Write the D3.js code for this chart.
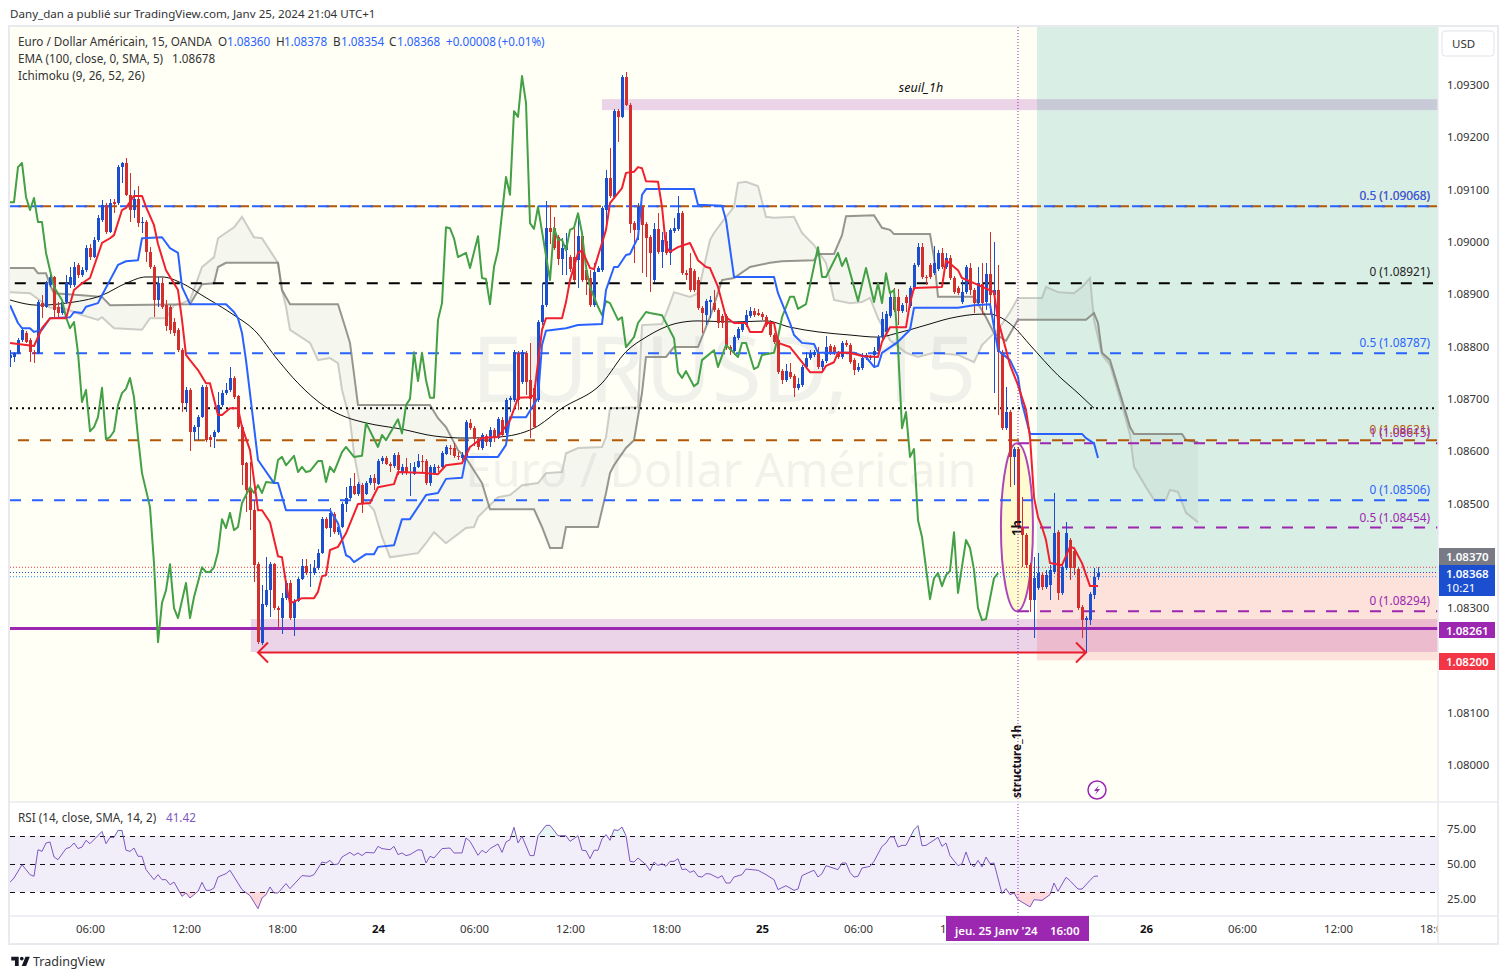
<!DOCTYPE html>
<html>
<head>
<meta charset="utf-8">
<title>EURUSD 15</title>
<script src="https://cdn.jsdelivr.net/npm/d3@7"></script>
<style>
  html, body { margin: 0; padding: 0; background: #fff; }
  svg { display: block; }
  text { font-family: "Noto Sans", sans-serif; }
</style>
</head>
<body>
<div id="chart"></div>
<script>
// all prices are in 1/100000 of a dollar (108368 = 1.08368)
const opens = [
  108778,108780,108788,108812,108826,108812,108789,108788,108883,108876,
  108918,108933,108876,108864,108885,108918,108918,108956,108937,108946,
  108988,108971,109004,109042,109071,109019,109076,109074,109143,109151,
  109090,109061,109082,109036,109038,108981,108952,108889,108921,108879,
  108876,108847,108832,108793,108692,108717,108637,108646,108665,108723,
  108627,108627,108637,108688,108711,108717,108740,108705,108646,108577,
  108530,108487,108384,108233,108306,108334,108384,108300,108281,108319,
  108348,108281,108313,108355,108380,108367,108367,108376,108405,108470,
  108453,108480,108445,108455,108499,108510,108533,108518,108535,108518,
  108539,108549,108537,108581,108587,108575,108571,108593,108558,108570,
  108558,108556,108570,108581,108581,108539,108558,108570,108570,108594,
  108606,108606,108591,108587,108587,108654,108644,108623,108606,108629,
  108617,108640,108625,108659,108634,108698,108698,108788,108732,108788,
  108736,108721,108698,108847,108879,109027,109027,109009,108967,108984,
  108971,108971,108965,109011,108946,108931,108879,108942,108946,109061,
  109122,109086,109250,109239,109315,109262,109036,109023,109067,109034,
  109009,108927,109025,108981,109002,108979,109021,109025,109055,108941,
  108950,108944,108927,108874,108860,108885,108883,108870,108858,108858,
  108799,108791,108816,108832,108841,108858,108868,108864,108862,108856,
  108847,108822,108812,108753,108736,108751,108744,108721,108726,108761,
  108778,108784,108789,108761,108772,108801,108799,108788,108780,108807,
  108803,108774,108755,108759,108778,108778,108784,108791,108818,108828,
  108858,108895,108895,108868,108895,108877,108912,108956,108990,108933,
  108956,108941,108948,108979,108952,108969,108931,108912,108885,108904,
  108950,108908,108883,108919,108885,108939,108898,108908,108789,108644,
  108675,108589,108604,108455,108439,108382,108315,108338,108363,108340,
  108344,108369,108445,108329,108376,108430,108409,108375,108302,108277,
  108277,108325,108360
];
const highs = [
  108793,108789,108816,108835,108830,108816,108793,108889,108898,108925,
  108940,108935,108885,108889,108937,108952,108961,108960,108952,108994,
  108996,109009,109051,109080,109074,109082,109082,109147,109153,109160,
  109132,109099,109107,109048,109042,108990,108956,108933,108931,108889,
  108879,108854,108835,108797,108723,108721,108650,108669,108726,108726,
  108631,108640,108713,108717,108730,108761,108744,108707,108650,108579,
  108579,108507,108388,108344,108398,108388,108386,108304,108329,108352,
  108354,108317,108359,108394,108394,108384,108392,108413,108474,108474,
  108491,108484,108457,108503,108531,108549,108558,108541,108539,108543,
  108554,108556,108585,108591,108591,108579,108596,108598,108575,108587,
  108577,108579,108594,108593,108585,108573,108575,108573,108600,108612,
  108612,108615,108598,108598,108659,108661,108648,108627,108635,108633,
  108646,108644,108665,108665,108702,108705,108793,108791,108793,108791,
  108807,108726,108851,108921,109078,109071,109048,109013,109007,109017,
  108975,109027,109055,109017,108956,108946,108960,108954,109069,109137,
  109179,109254,109254,109319,109325,109266,109040,109074,109071,109038,
  109013,109036,109055,109019,109019,109027,109046,109088,109059,108946,
  108979,108948,108933,108877,108891,108897,108908,108874,108862,108862,
  108803,108822,108837,108849,108870,108876,108874,108872,108866,108860,
  108851,108826,108816,108757,108767,108768,108747,108740,108765,108789,
  108793,108793,108799,108776,108820,108805,108803,108791,108811,108812,
  108807,108778,108768,108788,108788,108784,108799,108822,108866,108868,
  108902,108912,108910,108883,108898,108916,108960,108998,108998,108937,
  108960,108992,108984,108988,108979,108975,108935,108916,108927,108956,
  108960,108912,108952,108960,108960,109019,109000,108956,108793,108723,
  108679,108608,108608,108512,108443,108386,108398,108405,108369,108373,
  108382,108520,108449,108382,108464,108434,108413,108378,108306,108285,
  108331,108376,108378
];
const lows = [
  108761,108770,108786,108809,108807,108770,108768,108786,108854,108874,
  108914,108856,108856,108860,108881,108912,108914,108931,108933,108942,
  108965,108969,109000,109038,109015,109017,109055,109071,109113,109088,
  109038,109046,109028,109017,108961,108948,108856,108876,108872,108830,
  108824,108820,108789,108675,108675,108600,108621,108621,108663,108617,
  108608,108606,108635,108684,108707,108713,108700,108642,108535,108484,
  108449,108350,108231,108229,108302,108283,108296,108262,108250,108315,
  108277,108246,108311,108354,108363,108340,108363,108373,108403,108451,
  108436,108441,108439,108453,108484,108508,108516,108514,108482,108516,
  108535,108526,108535,108575,108573,108560,108568,108554,108554,108554,
  108514,108554,108568,108558,108535,108533,108554,108560,108566,108593,
  108593,108587,108583,108583,108583,108640,108610,108602,108602,108610,
  108608,108617,108623,108627,108631,108675,108694,108679,108728,108707,
  108625,108644,108694,108841,108876,108996,108984,108956,108937,108937,
  108942,108923,108912,108923,108898,108876,108876,108942,108942,109038,
  109084,109082,109191,109237,109260,109017,108960,109004,108941,108933,
  108904,108923,108977,108950,108975,108956,109017,109021,108937,108927,
  108904,108904,108870,108826,108841,108854,108866,108835,108835,108793,
  108784,108784,108812,108828,108837,108854,108856,108858,108851,108837,
  108818,108805,108747,108728,108732,108738,108703,108717,108723,108757,
  108774,108780,108757,108751,108768,108784,108784,108776,108776,108799,
  108766,108745,108751,108755,108774,108774,108759,108788,108814,108824,
  108854,108866,108841,108864,108866,108874,108908,108952,108929,108918,
  108929,108937,108944,108948,108948,108927,108900,108898,108881,108900,
  108898,108864,108879,108860,108870,108860,108711,108669,108640,108640,
  108531,108535,108451,108378,108376,108292,108243,108334,108334,108336,
  108315,108365,108315,108325,108373,108354,108363,108296,108243,108216,
  108267,108317,108354
];
const closes = [
  108784,108788,108812,108832,108809,108789,108786,108885,108876,108921,
  108933,108870,108864,108885,108921,108933,108952,108937,108946,108988,
  108971,109004,109046,109071,109019,109074,109072,109143,109151,109090,
  109061,109082,109036,109038,108981,108952,108889,108921,108876,108839,
  108832,108826,108793,108692,108717,108637,108646,108665,108723,108621,
  108621,108637,108688,108711,108717,108740,108703,108646,108573,108526,
  108487,108382,108235,108308,108334,108384,108300,108296,108319,108348,
  108281,108313,108355,108380,108367,108369,108376,108405,108470,108453,
  108482,108445,108455,108499,108510,108533,108518,108537,108501,108539,
  108549,108539,108581,108587,108575,108571,108593,108564,108570,108558,
  108560,108570,108581,108579,108539,108570,108570,108568,108596,108608,
  108604,108591,108589,108593,108656,108644,108623,108608,108631,108617,
  108640,108625,108661,108631,108698,108702,108789,108698,108789,108732,
  108700,108646,108847,108879,109027,109019,108988,108967,108988,108994,
  108948,108927,109011,108927,108927,108879,108942,108950,109065,109122,
  109088,109250,109239,109315,109262,109034,109023,109067,109032,109007,
  108979,109025,108981,109004,108979,109023,109027,109055,108941,108937,
  108908,108908,108874,108864,108887,108889,108870,108845,108845,108799,
  108793,108818,108834,108845,108860,108868,108860,108860,108856,108841,
  108822,108809,108751,108736,108753,108742,108721,108728,108761,108778,
  108788,108789,108761,108772,108799,108788,108788,108780,108807,108803,
  108770,108755,108761,108778,108784,108780,108791,108818,108853,108862,
  108895,108870,108868,108879,108883,108912,108956,108990,108933,108931,
  108933,108960,108979,108952,108969,108931,108904,108902,108904,108952,
  108908,108883,108921,108883,108939,108898,108908,108789,108644,108675,
  108589,108604,108455,108439,108382,108315,108357,108367,108340,108363,
  108373,108443,108329,108378,108443,108376,108376,108300,108277,108281,
  108327,108360,108368
];

// indicators as [bar, price], read at the visible corners of each line
const emaLine = [[0,108889],[7,108879],[14,108883],[23,108898],[29,108921],[34,108933],[38,108933],[43,108921],[48,108898],[56,108860],[61,108832],[67,108774],[72,108730],[79,108684],[84,108665],[89,108654],[98,108642],[106,108629],[114,108625],[122,108627],[131,108644],[138,108682],[148,108730],[154,108790],[159,108818],[167,108845],[172,108849],[181,108847],[189,108849],[195,108837],[202,108828],[210,108822],[217,108818],[222,108826],[229,108841],[235,108854],[243,108862],[245,108862],[247,108858],[251,108837],[255,108803],[262,108745],[267,108711],[271,108682]];
const tenkan = [[0,108807],[4,108803],[6,108801],[8,108835],[10,108854],[14,108854],[16,108908],[18,108921],[20,108931],[23,108998],[25,109007],[26,109013],[28,109061],[29,109065],[31,109088],[33,109088],[34,109067],[36,109032],[37,108996],[39,108946],[42,108908],[43,108851],[44,108784],[45,108774],[47,108755],[49,108730],[50,108730],[52,108669],[53,108669],[55,108682],[57,108682],[58,108646],[60,108602],[61,108545],[62,108487],[63,108487],[65,108464],[67,108399],[68,108397],[69,108348],[70,108309],[73,108319],[76,108319],[77,108331],[78,108361],[79,108363],[80,108411],[82,108417],[84,108443],[87,108499],[90,108501],[92,108531],[96,108537],[97,108560],[104,108558],[107,108556],[109,108573],[113,108577],[115,108608],[118,108625],[122,108627],[125,108659],[127,108702],[130,108703],[131,108707],[133,108832],[134,108854],[138,108854],[139,108885],[140,108927],[142,108979],[143,108984],[145,108950],[146,108948],[148,108998],[149,109023],[150,109074],[153,109103],[154,109132],[156,109134],[157,109143],[158,109141],[159,109116],[162,109115],[163,109067],[164,108990],[165,108981],[167,108990],[170,108998],[172,108965],[174,108952],[175,108950],[177,108914],[179,108856],[181,108845],[184,108845],[185,108828],[188,108828],[189,108845],[191,108845],[192,108807],[195,108799],[198,108770],[200,108751],[203,108751],[204,108763],[206,108770],[207,108788],[210,108788],[213,108782],[217,108780],[218,108809],[220,108837],[224,108837],[225,108883],[226,108912],[233,108914],[234,108965],[237,108946],[238,108931],[242,108918],[246,108904],[247,108851],[250,108765],[252,108726],[254,108679],[255,108627],[256,108512],[257,108474],[258,108455],[259,108430],[260,108386],[263,108382],[265,108417],[266,108415],[268,108386],[270,108342],[272,108342]];
const kijun = [[0,108879],[2,108845],[3,108835],[5,108835],[6,108828],[8,108832],[10,108854],[15,108856],[16,108866],[18,108864],[19,108876],[22,108883],[23,108898],[25,108927],[27,108956],[29,108963],[32,108965],[33,109007],[38,109009],[40,108988],[42,108979],[43,108914],[45,108881],[54,108881],[56,108866],[57,108854],[58,108826],[59,108774],[62,108583],[66,108539],[67,108539],[69,108487],[80,108487],[82,108462],[84,108401],[85,108397],[86,108388],[89,108403],[91,108403],[92,108417],[96,108420],[98,108470],[100,108470],[104,108516],[107,108520],[109,108547],[113,108549],[114,108589],[122,108589],[124,108612],[125,108665],[129,108665],[132,108702],[133,108803],[134,108830],[139,108835],[142,108841],[148,108843],[149,108908],[151,108952],[152,108952],[154,108975],[155,108977],[157,109009],[158,109090],[159,109101],[171,109101],[172,109071],[178,109069],[179,109042],[181,108933],[191,108933],[192,108902],[195,108845],[196,108822],[198,108807],[201,108805],[202,108788],[211,108788],[214,108780],[216,108761],[217,108763],[218,108788],[222,108809],[225,108832],[226,108874],[237,108874],[241,108879],[245,108881],[247,108793],[250,108774],[252,108742],[253,108692],[255,108633],[268,108633],[269,108625],[271,108615],[272,108587]];
const chikou = [[0,109076],[1,109076],[2,109143],[3,109151],[4,109086],[5,109061],[6,109084],[7,109038],[8,109038],[9,108979],[10,108946],[11,108914],[13,108889],[14,108856],[15,108835],[16,108847],[17,108788],[18,108694],[19,108717],[20,108638],[21,108646],[22,108665],[23,108721],[24,108623],[25,108627],[26,108638],[27,108688],[28,108711],[29,108719],[30,108740],[31,108703],[32,108627],[33,108558],[35,108493],[36,108386],[37,108235],[38,108310],[39,108334],[40,108384],[41,108300],[42,108281],[44,108348],[45,108281],[46,108321],[48,108378],[49,108369],[50,108369],[51,108378],[52,108407],[53,108470],[54,108453],[55,108482],[56,108449],[57,108455],[58,108501],[60,108531],[61,108520],[62,108535],[63,108520],[64,108541],[66,108539],[67,108583],[68,108589],[69,108573],[71,108591],[72,108560],[73,108570],[74,108560],[75,108562],[77,108581],[78,108581],[79,108541],[80,108570],[81,108560],[83,108598],[84,108608],[86,108589],[88,108591],[89,108654],[92,108608],[93,108631],[94,108621],[97,108661],[98,108634],[99,108688],[100,108700],[101,108789],[102,108734],[103,108788],[104,108736],[105,108702],[106,108702],[107,108851],[108,108883],[109,109028],[110,109026],[111,109007],[112,108971],[114,108979],[115,108950],[117,109011],[118,108931],[119,108929],[120,108881],[121,108952],[122,108984],[124,109124],[125,109090],[126,109250],[127,109239],[128,109317],[129,109266],[130,109036],[131,109025],[132,109067],[135,108927],[136,109027],[137,109004],[138,109004],[139,108984],[140,109023],[141,109027],[142,109055],[143,109017],[144,108952],[145,108914],[147,108876],[148,108860],[149,108887],[150,108883],[152,108851],[153,108856],[154,108799],[156,108818],[157,108845],[159,108866],[160,108864],[163,108860],[166,108816],[167,108751],[168,108740],[169,108753],[171,108724],[172,108730],[173,108774],[176,108793],[177,108761],[179,108803],[182,108780],[183,108807],[184,108807],[186,108757],[187,108761],[188,108784],[191,108788],[192,108818],[193,108856],[195,108895],[196,108895],[197,108872],[199,108881],[202,108990],[203,108933],[204,108933],[207,108979],[208,108954],[209,108969],[212,108887],[214,108950],[216,108885],[217,108921],[218,108883],[219,108940],[220,108902],[221,108908],[222,108799],[223,108644],[224,108675],[225,108589],[226,108604],[227,108468],[228,108436],[230,108317],[231,108357],[232,108367],[233,108342],[234,108363],[235,108371],[236,108445],[237,108329],[239,108430],[240,108415],[241,108373],[242,108300],[243,108277],[244,108279],[246,108357],[247,108367]];
const senkouA = [[0,108904],[5,108902],[10,108874],[13,108874],[16,108866],[18,108860],[22,108851],[23,108856],[26,108835],[33,108832],[35,108854],[39,108854],[41,108879],[43,108883],[45,108889],[48,108952],[51,108971],[52,109007],[56,109028],[58,109048],[61,109009],[63,109007],[67,108960],[68,108908],[69,108876],[70,108832],[75,108807],[77,108774],[80,108778],[82,108768],[83,108717],[85,108659],[86,108596],[88,108512],[91,108487],[93,108436],[95,108397],[102,108405],[104,108424],[106,108445],[109,108424],[114,108453],[116,108455],[117,108474],[120,108497],[122,108512],[125,108516],[128,108535],[132,108539],[134,108558],[138,108560],[139,108596],[142,108606],[148,108608],[149,108627],[150,108682],[157,108684],[158,108841],[163,108843],[165,108883],[166,108904],[170,108895],[172,108902],[175,109004],[176,109017],[178,109038],[181,109067],[182,109113],[184,109115],[187,109107],[189,109048],[191,109046],[196,109048],[198,109017],[201,108994],[204,108960],[206,108889],[210,108883],[213,108885],[215,108893],[217,108854],[220,108812],[224,108788],[227,108780],[231,108788],[237,108784],[241,108770],[243,108803],[245,108818],[247,108832],[250,108866],[252,108893],[258,108893],[259,108914],[262,108904],[266,108902],[268,108914],[270,108931],[271,108851],[273,108784],[275,108765],[278,108688],[280,108631],[281,108570],[284,108531],[286,108507],[289,108507],[290,108526],[292,108522],[294,108482],[297,108464]];
const senkouB = [[0,108950],[6,108950],[7,108940],[9,108940],[10,108918],[11,108902],[18,108898],[23,108895],[25,108879],[45,108881],[48,108919],[51,108921],[52,108952],[54,108960],[67,108960],[68,108908],[70,108881],[82,108881],[84,108832],[85,108807],[87,108688],[105,108688],[107,108663],[109,108646],[112,108602],[114,108587],[118,108539],[120,108489],[131,108489],[133,108455],[135,108415],[138,108415],[139,108455],[147,108455],[149,108520],[150,108558],[151,108573],[154,108606],[156,108621],[158,108711],[159,108780],[164,108780],[166,108799],[172,108799],[175,108856],[176,108879],[178,108927],[181,108931],[185,108952],[190,108960],[193,108963],[201,108965],[202,108977],[206,108977],[208,109013],[209,109049],[216,109051],[218,109027],[220,109023],[221,109015],[230,109015],[231,108971],[232,108895],[241,108895],[244,108856],[246,108826],[249,108811],[252,108851],[269,108851],[271,108864],[272,108845],[273,108788],[275,108774],[278,108698],[280,108646],[281,108633],[293,108633],[294,108621],[297,108617]];
const rsiLine = [[0,36.9],[1,40],[3,49.5],[4,46],[5,42.4],[6,41.2],[7,60.2],[8,59],[9,65],[10,65.7],[11,55],[12,53.1],[14,61],[15,61.9],[16,65],[17,61],[18,62.1],[19,66.9],[20,64.5],[23,73.3],[24,64.5],[25,69],[26,69],[27,74],[28,74],[29,59.8],[30,59],[31,61.4],[32,55.5],[33,55.5],[34,46],[36,38.8],[37,42.4],[38,38.8],[39,38.8],[40,35.2],[41,37.1],[43,26.9],[44,29.3],[45,25.7],[47,30.5],[48,36.9],[49,31.2],[50,31.2],[51,32.9],[52,40.7],[54,43.1],[55,45.5],[58,31.7],[60,27.4],[62,18.1],[63,25.7],[64,28.1],[65,33.6],[66,29.3],[67,29.3],[69,36],[70,32.4],[73,41.7],[75,41.2],[76,42.4],[78,51.4],[79,50.7],[80,52.6],[81,49.5],[82,50],[83,55],[85,58.3],[86,56.2],[87,57.9],[88,56],[89,58.3],[91,57.9],[92,62.6],[93,61],[95,60.2],[96,62.6],[97,56.7],[98,57.9],[99,56],[100,56.7],[102,60.2],[103,59.8],[104,50.7],[105,55.5],[106,54.3],[108,61],[110,61.4],[111,57.9],[113,57.9],[114,68.6],[115,66.2],[117,56.2],[118,59.8],[119,57.9],[120,61],[122,64.3],[123,58.3],[124,65.7],[125,67.4],[126,76.2],[127,65],[128,69.8],[130,56],[131,56],[132,70.2],[134,77.6],[135,77.6],[136,74],[137,70.2],[139,70.2],[140,66.2],[142,70.2],[143,59.8],[144,59.5],[145,53.8],[146,59.8],[147,59.8],[148,67.9],[149,71],[150,66.9],[151,74.5],[152,74],[153,76.4],[154,70.2],[155,51.9],[156,51.4],[157,54.3],[159,49.5],[160,45.2],[161,51.4],[162,49],[163,50.2],[164,48.3],[165,51.9],[166,51.9],[167,53.8],[168,46],[169,46.4],[170,44],[171,45.2],[172,41.2],[173,40.7],[174,43.1],[175,42.9],[177,40],[178,41.7],[179,36.4],[180,36.4],[181,40.7],[183,42.4],[184,46.4],[187,45.5],[189,42.4],[191,38.8],[192,31.7],[194,34.5],[196,31.2],[197,32.1],[198,41.7],[200,44.3],[201,45.5],[202,40.7],[203,43.1],[204,48.8],[207,46],[208,50.7],[209,50.7],[210,44],[211,40.7],[212,41.2],[213,47.1],[215,48.3],[216,51.9],[218,62.6],[219,65],[220,69.3],[221,69.3],[222,62.1],[223,63.3],[224,63.3],[226,74.5],[227,77.4],[228,63.1],[229,63.3],[232,69],[233,62.6],[234,65],[235,56],[237,48.8],[238,50.2],[239,58.6],[240,50.7],[241,47.9],[242,52.6],[243,47.9],[244,55],[245,50.2],[246,50.7],[248,28.8],[249,32.4],[250,28.1],[251,29.3],[252,24.5],[255,19.3],[256,24.5],[258,24],[260,28.1],[261,36.4],[262,30.5],[264,40.5],[265,38.1],[267,32.1],[268,32.1],[270,38.3],[271,41.2],[272,41.4]];

const priceTicks = [109300,109200,109100,109000,108900,108800,108700,108600,108500,108300,108100,108000];
const rsiTicks = [75,50,25];
const rsiLevels = [70,50,30];
const blueLevels = [109068,108787,108506];
const blueLabels = ["0.5 (1.09068)","0.5 (1.08787)","0 (1.08506)"];
const brownLevels = [109068,108621];
const brownLabels = ["0.5 (1.09068)","0 (1.08621)"];
const purpleLevels = [108615,108454,108294];
const purpleLabels = ["1 (1.08615)","0.5 (1.08454)","0 (1.08294)"];
const blackLevel = 108921, dottedLevel = 108682, supportLevel = 108261;
const liveLevels = [108378,108368,108360];

const width = 1508, height = 979;
const paneLeft = 10, paneRight = 1438, axisRight = 1498;
const paneTop = 27, paneBottom = 802, rsiBottom = 916, timeBottom = 944;

const startTime = new Date(2024, 0, 23, 1, 0);
const barTime = n => d3.timeMinute.offset(startTime, n * 15);

const x = d3.scaleTime()
  .domain([startTime, d3.timeMinute.offset(startTime, 5355)])
  .range([paneLeft, paneRight]);
const y = d3.scaleLinear().domain([109300, 108000]).range([85, 765]);
const yRsi = d3.scaleLinear().domain([70, 30]).range([836, 892]);
const bx = n => x(barTime(n));

const svg = d3.select("#chart").append("svg")
  .attr("width", width).attr("height", height);

const defs = svg.append("defs");
defs.append("clipPath").attr("id", "clip-price").append("rect")
  .attr("x", paneLeft).attr("y", paneTop).attr("width", paneRight - paneLeft).attr("height", paneBottom - paneTop);
defs.append("clipPath").attr("id", "clip-time").append("rect")
  .attr("x", paneLeft).attr("y", rsiBottom).attr("width", paneRight - paneLeft).attr("height", timeBottom - rsiBottom);
defs.append("clipPath").attr("id", "clip-low").append("rect")
  .attr("x", paneLeft).attr("y", yRsi(30)).attr("width", paneRight - paneLeft).attr("height", rsiBottom - yRsi(30));
defs.append("clipPath").attr("id", "clip-high").append("rect")
  .attr("x", paneLeft).attr("y", paneBottom).attr("width", paneRight - paneLeft).attr("height", yRsi(70) - paneBottom);
const lowGrad = defs.append("linearGradient").attr("id", "grad-low").attr("x1", 0).attr("y1", 0).attr("x2", 0).attr("y2", 1);
lowGrad.append("stop").attr("offset", "0%").attr("stop-color", "#f23645").attr("stop-opacity", 0.02);
lowGrad.append("stop").attr("offset", "100%").attr("stop-color", "#f23645").attr("stop-opacity", 0.22);
const highGrad = defs.append("linearGradient").attr("id", "grad-high").attr("x1", 0).attr("y1", 1).attr("x2", 0).attr("y2", 0);
highGrad.append("stop").attr("offset", "0%").attr("stop-color", "#26a69a").attr("stop-opacity", 0.01);
highGrad.append("stop").attr("offset", "100%").attr("stop-color", "#26a69a").attr("stop-opacity", 0.12);

// header line
svg.append("text").attr("x", 10).attr("y", 18).attr("font-size", 11.6).attr("fill", "#333")
  .text("Dany_dan a publié sur TradingView.com, Janv 25, 2024 21:04 UTC+1");

// frame and pane backgrounds
svg.append("rect").attr("x", paneLeft).attr("y", paneTop).attr("width", paneRight - paneLeft).attr("height", paneBottom - paneTop)
  .attr("fill", "#fffff6");

const price = svg.append("g").attr("clip-path", "url(#clip-price)");

// watermark
price.append("text").attr("x", 724).attr("y", 402).attr("text-anchor", "middle")
  .attr("font-size", 91).attr("fill", "#787b86").attr("fill-opacity", 0.11).text("EURUSD, 15");
price.append("text").attr("x", 721).attr("y", 487).attr("text-anchor", "middle")
  .attr("font-size", 47).attr("fill", "#787b86").attr("fill-opacity", 0.11).text("Euro / Dollar Américain");

// supply / demand zones
const zone = (n0, top, bottom) => price.append("rect")
  .attr("x", bx(n0)).attr("y", y(top)).attr("width", paneRight - bx(n0)).attr("height", y(bottom) - y(top))
  .attr("fill", "#9c27b0").attr("fill-opacity", 0.2);
zone(148, 109273, 109252);
zone(60.25, 108279, 108216);

// long position box
const rrBox = (top, bottom, color) => price.append("rect")
  .attr("x", bx(256.75)).attr("y", y(top)).attr("width", paneRight - bx(256.75)).attr("height", y(bottom) - y(top))
  .attr("fill", color).attr("fill-opacity", 0.15);
rrBox(109420, 108368, "#009688");
rrBox(108368, 108200, "#f23645");

// ellipse round the 1h impulse
price.append("ellipse")
  .attr("cx", bx(251.75)).attr("cy", (y(108615) + y(108294)) / 2)
  .attr("rx", (bx(255.75) - bx(247.75)) / 2).attr("ry", (y(108294) - y(108615)) / 2)
  .attr("fill", "#ffeb3b").attr("fill-opacity", 0.2)
  .attr("stroke", "#9c27b0").attr("stroke-width", 2).attr("stroke-opacity", 0.85);

// cloud
const lineGen = d3.line().x(d => bx(d[0])).y(d => y(d[1]));
price.append("path")
  .attr("d", lineGen(senkouA.concat(senkouB.slice().reverse())) + "Z")
  .attr("fill", "#787b86").attr("fill-opacity", 0.07);
price.append("path").attr("d", lineGen(senkouA)).attr("fill", "none")
  .attr("stroke", "#a8a8a4").attr("stroke-opacity", 0.55).attr("stroke-width", 2);
price.append("path").attr("d", lineGen(senkouB)).attr("fill", "none")
  .attr("stroke", "#7d7d76").attr("stroke-opacity", 0.8).attr("stroke-width", 2);

// horizontal levels
const hline = (level, n0, xEnd, color, dash, w) => price.append("line")
  .attr("x1", bx(n0)).attr("x2", xEnd).attr("y1", y(level)).attr("y2", y(level))
  .attr("stroke", color).attr("stroke-width", w).attr("stroke-dasharray", dash);
brownLevels.forEach(l => hline(l, 2, 1437, "#b25806", "11 11", 2));
blueLevels.forEach(l => hline(l, 0, 1430, "#2962ff", "11 11", 2));
hline(blackLevel, 1.25, 1433, "#000", "11 11", 2);
hline(dottedLevel, 0, 1436, "#000", "2 4", 2);
purpleLevels.forEach(l => hline(l, 252, 1438, "#9c27b0", "11 11", 2));
hline(supportLevel, 0, 1438, "#9c27b0", null, 3);
hline(liveLevels[0], 0, 1438, "#f23645", "1 2", 1);
hline(liveLevels[1], 0, 1438, "#1c4fd0", "1 2", 1);
hline(liveLevels[2], 0, 1438, "#2196f3", "1 2", 1);

// ema
price.append("path").attr("d", lineGen.curve(d3.curveMonotoneX)(emaLine)).attr("fill", "none")
  .attr("stroke", "#111").attr("stroke-width", 1);
lineGen.curve(d3.curveLinear);

// candles
const bars = d3.range(opens.length);
const candleColor = i => closes[i] >= opens[i] ? "#1c4fd0" : "#d32f2f";
price.append("g").attr("shape-rendering", "crispEdges").selectAll("rect")
  .data(bars).join("rect")
    .attr("x", i => Math.round(bx(i)))
    .attr("y", i => y(highs[i]))
    .attr("width", 1)
    .attr("height", i => y(lows[i]) - y(highs[i]))
    .attr("fill", candleColor);
price.append("g").attr("shape-rendering", "crispEdges").selectAll("rect")
  .data(bars).join("rect")
    .attr("x", i => Math.round(bx(i)) - 1)
    .attr("y", i => y(Math.max(opens[i], closes[i])))
    .attr("width", 3)
    .attr("height", i => Math.max(1, Math.abs(y(opens[i]) - y(closes[i]))))
    .attr("fill", candleColor);

// ichimoku lines
const drawLine = (pts, color) => price.append("path").attr("d", lineGen(pts)).attr("fill", "none")
  .attr("stroke", color).attr("stroke-width", 2).attr("stroke-linejoin", "round");
drawLine(chikou, "#43a047");
drawLine(kijun, "#2962ff");
drawLine(tenkan, "#f0202e");

// range arrow
const arrowY = y(108215);
const arrowL = bx(62), arrowR = bx(269);
price.append("path")
  .attr("d", `M${arrowL},${arrowY}L${arrowR},${arrowY}M${arrowL + 10},${arrowY - 10}L${arrowL},${arrowY}L${arrowL + 10},${arrowY + 10}M${arrowR - 10},${arrowY - 10}L${arrowR},${arrowY}L${arrowR - 10},${arrowY + 10}`)
  .attr("fill", "none").attr("stroke", "#e8202e").attr("stroke-width", 2);

// level labels
const levelLabel = (level, label, color, dy) => price.append("text")
  .attr("x", 1430).attr("y", y(level) + dy).attr("text-anchor", "end")
  .attr("font-size", 11.8).attr("fill", color).text(label);
brownLabels.forEach((t, i) => levelLabel(brownLevels[i], t, "#b25806", -6));
blueLabels.forEach((t, i) => levelLabel(blueLevels[i], t, "#2962ff", -6));
purpleLabels.forEach((t, i) => levelLabel(purpleLevels[i], t, "#9c27b0", -6));
levelLabel(blackLevel, "0 (1.08921)", "#222", -7);

// drawing texts
price.append("text").attr("x", 921).attr("y", 92).attr("text-anchor", "middle")
  .attr("font-size", 12.5).attr("font-style", "italic").attr("fill", "#111").text("seuil_1h");
price.append("text").attr("transform", "translate(1021,798) rotate(-90)")
  .attr("font-size", 11.6).attr("font-weight", 700).attr("fill", "#111").text("structure_1h");
price.append("text").attr("transform", "translate(1021,536) rotate(-90)")
  .attr("font-size", 13).attr("font-weight", 700).attr("fill", "#111").text("1h");

// legend
const legend = svg.append("g").attr("font-size", 11.7).attr("fill", "#333");
const l1 = legend.append("text").attr("y", 46);
const blue = "#2962ff";
[["Euro / Dollar Américain, 15, OANDA", 18, null], ["O", 218, null], ["1.08360", 227, blue], ["H", 276, null], ["1.08378", 284, blue],
 ["B", 333, null], ["1.08354", 341, blue], ["C", 389, null], ["1.08368", 397, blue], ["+0.00008", 446, blue], ["(+0.01%)", 498, blue]]
  .forEach(p => l1.append("tspan").attr("x", p[1]).attr("fill", p[2]).text(p[0]));
const l2 = legend.append("text").attr("y", 63);
l2.append("tspan").attr("x", 18).text("EMA (100, close, 0, SMA, 5)");
l2.append("tspan").attr("x", 172).text("1.08678");
legend.append("text").attr("x", 18).attr("y", 80).text("Ichimoku (9, 26, 52, 26)");

// rsi pane
const rsi = svg.append("g");
rsi.append("rect").attr("x", paneLeft).attr("y", yRsi(70)).attr("width", paneRight - paneLeft).attr("height", yRsi(30) - yRsi(70))
  .attr("fill", "#7e57c2").attr("fill-opacity", 0.1);
rsi.selectAll("line.level").data(rsiLevels).join("line").attr("class", "level")
  .attr("x1", paneLeft).attr("x2", paneRight).attr("y1", d => yRsi(d)).attr("y2", d => yRsi(d))
  .attr("stroke", "#111").attr("stroke-dasharray", "5 5").attr("shape-rendering", "crispEdges");
const rsiArea = base => d3.area().x(d => bx(d[0])).y0(yRsi(base)).y1(d => yRsi(d[1]));
rsi.append("path").attr("d", rsiArea(30)(rsiLine)).attr("fill", "url(#grad-low)").attr("clip-path", "url(#clip-low)");
rsi.append("path").attr("d", rsiArea(70)(rsiLine)).attr("fill", "url(#grad-high)").attr("clip-path", "url(#clip-high)");
rsi.append("path").attr("d", d3.line().x(d => bx(d[0])).y(d => yRsi(d[1]))(rsiLine)).attr("fill", "none")
  .attr("stroke", "#7e57c2").attr("stroke-width", 1);
const rsiTitle = rsi.append("text").attr("y", 822).attr("font-size", 11.7).attr("fill", "#333");
rsiTitle.append("tspan").attr("x", 18).text("RSI (14, close, SMA, 14, 2)");
rsiTitle.append("tspan").attr("x", 166).attr("fill", "#7e57c2").text("41.42");

// crosshair
svg.append("line").attr("x1", bx(252)).attr("x2", bx(252)).attr("y1", paneTop).attr("y2", rsiBottom)
  .attr("stroke", "#9c27b0").attr("stroke-dasharray", "1 2");

// axes
const axisStyle = g => {
  g.select(".domain").remove();
  g.selectAll(".tick line").remove();
  g.selectAll("text").attr("font-family", "\"Noto Sans\", sans-serif").attr("font-size", 11.4).attr("fill", "#333");
};
svg.append("g").attr("transform", `translate(${paneRight + 9},0)`)
  .call(d3.axisRight(y).tickValues(priceTicks).tickFormat(d => (d / 1e5).toFixed(5)).tickSize(0).tickPadding(0))
  .call(axisStyle);
svg.append("g").attr("transform", `translate(${paneRight + 9},0)`)
  .call(d3.axisRight(yRsi).tickValues(rsiTicks).tickFormat(d => d.toFixed(2)).tickSize(0).tickPadding(0))
  .call(axisStyle);
// the 18:00 of the 25th sits fully under the crosshair label in the reference
const timeTicks = d3.timeHour.every(6).range(new Date(2024, 0, 23, 6), new Date(2024, 0, 26, 19))
  .filter(d => +d !== +new Date(2024, 0, 25, 18));
const timeFmt = d => d.getHours() === 0 ? d3.timeFormat("%d")(d) : d3.timeFormat("%H:%M")(d);
svg.append("g").attr("clip-path", "url(#clip-time)")
  .append("g").attr("transform", `translate(0,${rsiBottom + 1})`)
  .call(d3.axisBottom(x).tickValues(timeTicks).tickFormat(timeFmt).tickSize(0).tickPadding(8))
  .call(axisStyle)
  .selectAll(".tick text").filter(d => d.getHours() === 0).attr("font-weight", 700).attr("fill", "#111");

// frame lines
const frame = svg.append("g").attr("stroke", "#e8eaef").attr("fill", "none");
frame.append("rect").attr("x", paneLeft - 1).attr("y", paneTop - 1).attr("width", axisRight - paneLeft + 1).attr("height", timeBottom - paneTop + 1).attr("stroke-width", 2);
frame.append("line").attr("x1", paneLeft).attr("x2", axisRight).attr("y1", paneBottom).attr("y2", paneBottom).attr("stroke-width", 1.5);
frame.append("line").attr("x1", paneLeft).attr("x2", axisRight).attr("y1", rsiBottom).attr("y2", rsiBottom).attr("stroke-width", 1.5);
frame.append("line").attr("x1", paneRight).attr("x2", paneRight).attr("y1", paneTop).attr("y2", timeBottom).attr("stroke-width", 1.5);

// currency button
svg.append("rect").attr("x", 1442).attr("y", 31).attr("width", 52).attr("height", 25).attr("rx", 3)
  .attr("fill", "#fff").attr("stroke", "#e0e3eb");
svg.append("text").attr("x", 1452).attr("y", 48).attr("font-size", 11.5).attr("fill", "#333").text("USD");

// price badges
const badge = (yTop, h, color, label, sub) => {
  svg.append("rect").attr("x", 1439).attr("y", yTop).attr("width", 56).attr("height", h).attr("fill", color);
  svg.append("text").attr("x", 1446).attr("y", yTop + 12.5).attr("font-size", 11.5).attr("font-weight", 600).attr("fill", "#fff").text(label);
  if (sub) svg.append("text").attr("x", 1446).attr("y", yTop + 27).attr("font-size", 11.5).attr("fill", "#fff").text(sub);
};
badge(548, 17, "#787b86", "1.08370");
badge(565, 31, "#1c4fd0", "1.08368", "10:21");
badge(622, 16, "#9c27b0", "1.08261");
badge(653, 17, "#f23645", "1.08200");

// crosshair time label
svg.append("rect").attr("x", 946).attr("y", rsiBottom).attr("width", 143).attr("height", 25).attr("fill", "#9c27b0");
const timeLabel = svg.append("text").attr("y", 935).attr("font-size", 11.5).attr("font-weight", 600).attr("fill", "#fff");
timeLabel.append("tspan").attr("x", 955).text("jeu. 25 Janv '24");
timeLabel.append("tspan").attr("x", 1050).text("16:00");

// alert icon
const alert = svg.append("g").attr("transform", "translate(1097,790)");
alert.append("circle").attr("r", 9).attr("fill", "#fff").attr("stroke", "#9c27b0").attr("stroke-width", 1.5);
alert.append("path").attr("d", "M2,-5L-3,1H0L-2,5L3,-1H0Z").attr("fill", "#9c27b0");

// logo
svg.append("path").attr("transform", "translate(10,953) scale(0.62)")
  .attr("d", "M14 6H2v6h6v9h6V6Zm12 15h-7l6-15h7l-6 15Zm-7-9a3 3 0 1 0 0-6 3 3 0 0 0 0 6Z").attr("fill", "#131722");
svg.append("text").attr("x", 33).attr("y", 966).attr("font-size", 12.5).attr("fill", "#333").text("TradingView");
</script>
</body>
</html>
